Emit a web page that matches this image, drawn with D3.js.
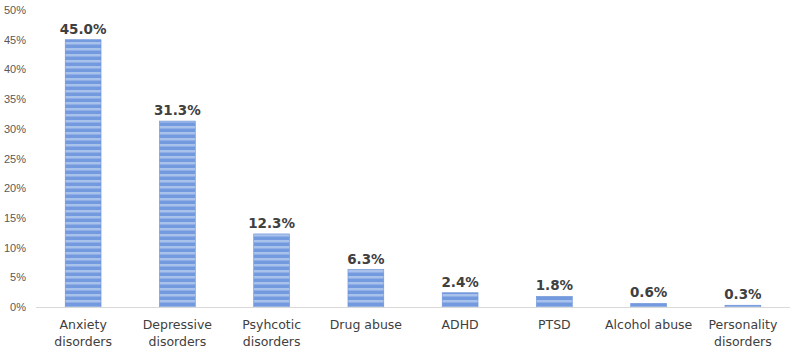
<!DOCTYPE html>
<html>
<head>
  <meta charset="UTF-8">
  <script src="https://d3js.org/d3.v7.min.js"></script>
  <style>
    body { margin: 0; background: #fff; }
    svg { font-family: Tahoma, "DejaVu Sans", Verdana, sans-serif; }
  </style>
</head>
<body>
  <svg></svg>
  <script>
    const categories = ['Anxiety disorders', 'Depressive disorders', 'Psyhcotic disorders', 'Drug abuse', 'ADHD', 'PTSD', 'Alcohol abuse', 'Personality disorders'];
    const values = [45.0, 31.3, 12.3, 6.3, 2.4, 1.8, 0.6, 0.3];
    const yTicks = [0, 5, 10, 15, 20, 25, 30, 35, 40, 45, 50];

    // two-line labels as shown under the axis
    const labelLines = {
      'Anxiety disorders': ['Anxiety', 'disorders'],
      'Depressive disorders': ['Depressive', 'disorders'],
      'Psyhcotic disorders': ['Psyhcotic', 'disorders'],
      'Drug abuse': ['Drug abuse'],
      'ADHD': ['ADHD'],
      'PTSD': ['PTSD'],
      'Alcohol abuse': ['Alcohol abuse'],
      'Personality disorders': ['Personality', 'disorders']
    };

    const W = 800, H = 352;
    const margin = { top: 10, right: 10, bottom: 45, left: 36 };
    const width = W - margin.left - margin.right;
    const height = H - margin.top - margin.bottom;

    const svgRoot = d3.select('svg').attr('width', W).attr('height', H);

    const defs = svgRoot.append('defs');
    const pat = defs.append('pattern')
      .attr('id', 'stripes')
      .attr('patternUnits', 'userSpaceOnUse')
      .attr('width', 8).attr('height', 6);
    pat.append('rect').attr('width', 8).attr('height', 6).attr('fill', '#739ade');
    pat.append('rect').attr('y', 2).attr('width', 8).attr('height', 2.5).attr('fill', '#a9c2ec');

    const svg = svgRoot.append('g')
      .attr('transform', `translate(${margin.left},${margin.top})`);

    const data = categories.map((c, i) => ({ cat: c, val: values[i] }));

    const x = d3.scaleBand()
      .domain(categories)
      .range([0, width])
      .paddingInner(0.62)
      .paddingOuter(0.31);

    const y = d3.scaleLinear()
      .domain([0, 50])
      .range([height, 0]);

    // y axis labels
    svg.append('g')
      .call(d3.axisLeft(y).tickValues(yTicks).tickFormat(d => d + '%').tickSize(0).tickPadding(10))
      .call(g => g.select('.domain').remove())
      .selectAll('text')
      .attr('fill', '#595959')
      .style('font-size', '11px');

    svg.selectAll('.bar')
      .data(data)
      .enter().append('rect')
      .attr('class', 'bar')
      .attr('x', d => x(d.cat))
      .attr('y', d => y(d.val))
      .attr('width', x.bandwidth())
      .attr('height', d => height - y(d.val))
      .attr('fill', 'url(#stripes)')
      .attr('stroke', '#6a90d8')
      .attr('stroke-width', 0.6);

    // x axis line
    svg.append('line')
      .attr('x1', 0).attr('x2', width)
      .attr('y1', height + 0.5).attr('y2', height + 0.5)
      .attr('stroke', '#d9d9d9');

    svg.selectAll('.label')
      .data(data)
      .enter().append('text')
      .attr('class', 'label')
      .attr('x', d => x(d.cat) + x.bandwidth() / 2)
      .attr('y', d => y(d.val) - 6)
      .attr('text-anchor', 'middle')
      .attr('font-weight', 'bold')
      .attr('font-size', '13.5px')
      .attr('fill', '#404040')
      .text(d => d.val.toFixed(1) + '%');

    const catG = svg.selectAll('.cat')
      .data(data)
      .enter().append('text')
      .attr('class', 'cat')
      .attr('text-anchor', 'middle')
      .attr('font-size', '12.5px')
      .attr('fill', '#404040')
      .attr('x', d => x(d.cat) + x.bandwidth() / 2)
      .attr('y', height + 22);
    catG.selectAll('tspan')
      .data(d => labelLines[d.cat].map(t => ({ t, x: x(d.cat) + x.bandwidth() / 2 })))
      .enter().append('tspan')
      .attr('x', d => d.x)
      .attr('dy', (d, i) => i === 0 ? 0 : 17)
      .text(d => d.t);
  </script>
</body>
</html>
